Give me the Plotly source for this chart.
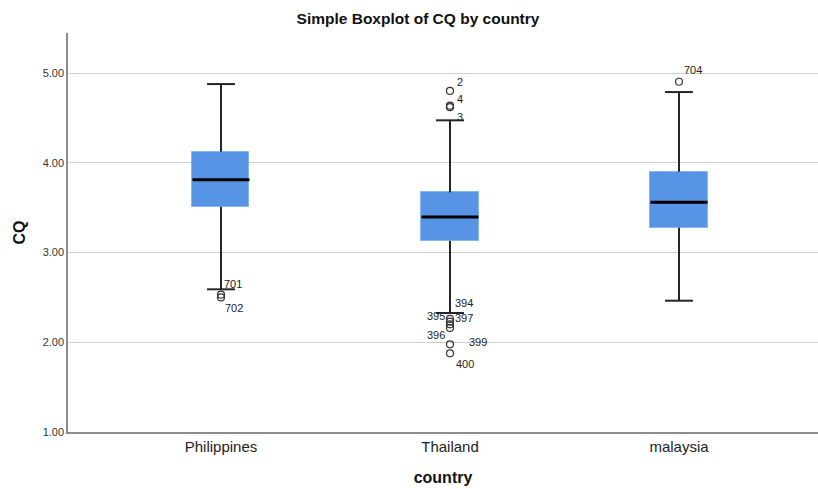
import plotly.graph_objects as go

countries = ["Philippines", "Thailand", "malaysia"]
q1 = [3.51, 3.13, 3.276]
median = [3.811, 3.395, 3.56]
q3 = [4.123, 3.67, 3.90]
lower_fence = [2.59, 2.326, 2.463]
upper_fence = [4.877, 4.473, 4.788]

# outliers: (country index, value, case label)
out_country = [0, 0, 1, 1, 1, 1, 1, 1, 1, 1, 1, 2]
out_value = [2.53, 2.50, 4.80, 4.636, 4.62, 2.26, 2.23, 2.20, 2.16, 1.977, 1.877, 4.903]
out_label = ["701", "702", "2", "4", "3", "394", "395", "397", "396", "399", "400", "704"]
# label offsets in pixels (style only)
lab_dx = [1, 2, 5, 5, 5, 3, -3, 3, -3, 17, 4, 3]
lab_dy = [11, -11, 9, 7, -10, 16, 6, 6, -7, 2, -11, 12]
lab_anchor = ["left", "left", "left", "left", "left", "left", "right", "left", "right", "left", "left", "left"]

y_ticks = [1, 2, 3, 4, 5]

BOX_HW = 0.1245
CAP_HW = 0.061
FILL = "#5894E6"
EDGE = "#86B4EE"
WCOL = "#262626"

fig = go.Figure()

xs = list(range(len(countries)))

# boxes as bars from q1 to q3
fig.add_trace(go.Bar(
    x=xs, y=[b - a for a, b in zip(q1, q3)], base=q1, width=2 * BOX_HW,
    marker=dict(color=FILL, line=dict(color=EDGE, width=1)),
    hoverinfo="skip", showlegend=False))

# whiskers and caps
wx, wy = [], []
for i in xs:
    wx += [i, i, None, i, i, None]
    wy += [q3[i], upper_fence[i], None, q1[i], lower_fence[i], None]
    wx += [i - CAP_HW, i + CAP_HW, None, i - CAP_HW, i + CAP_HW, None]
    wy += [upper_fence[i], upper_fence[i], None, lower_fence[i], lower_fence[i], None]
fig.add_trace(go.Scatter(x=wx, y=wy, mode="lines", line=dict(color=WCOL, width=2),
                         hoverinfo="skip", showlegend=False))

# medians
mx, my = [], []
for i in xs:
    mx += [i - BOX_HW, i + BOX_HW, None]
    my += [median[i], median[i], None]
fig.add_trace(go.Scatter(x=mx, y=my, mode="lines", line=dict(color="black", width=3),
                         hoverinfo="skip", showlegend=False))

# outliers
fig.add_trace(go.Scatter(
    x=out_country, y=out_value, mode="markers",
    marker=dict(symbol="circle-open", size=7, color="#333333", line=dict(width=1.2)),
    hoverinfo="skip", showlegend=False))

for c, v, t, dx, dy, an in zip(out_country, out_value, out_label, lab_dx, lab_dy, lab_anchor):
    fig.add_annotation(x=c, y=v, text=t, showarrow=False, xanchor=an, yanchor="middle",
                       xshift=dx, yshift=dy,
                       font=dict(family="Liberation Sans, Arial", size=11, color="#222222"))

fig.update_layout(
    width=818, height=489,
    margin=dict(l=68, r=0, t=33, b=57),
    paper_bgcolor="white", plot_bgcolor="white",
    title=dict(text="<b>Simple Boxplot of CQ by country</b>", x=418 / 818, xanchor="center",
               y=1 - 19 / 489, yanchor="middle",
               font=dict(family="Liberation Sans, Arial", size=15.5, color="#111111")),
    font=dict(family="Liberation Sans, Arial"),
    bargap=0,
)

fig.update_xaxes(
    range=[-0.668, 2.607], tickvals=xs, ticktext=countries,
    tickfont=dict(size=15, color="#222222"), showgrid=False, zeroline=False,
    showline=True, linecolor="#8c8c8c", linewidth=1.5, ticks="", automargin=False,
    title=dict(text="<b>country</b>", font=dict(size=16, color="#111111"), standoff=18),
)
fig.update_yaxes(
    range=[1.0, 5.446], tickvals=y_ticks, ticktext=[f"{v:.2f}" for v in y_ticks],
    tickfont=dict(size=11, color="#333333"), showgrid=True, gridcolor="#cfcfcf", gridwidth=1,
    zeroline=False, showline=True, linecolor="#8c8c8c", linewidth=1.5, ticks="", automargin=False,
    title=dict(text="<b>CQ</b>", font=dict(size=16, color="#111111"), standoff=13),
)

fig.write_html(
    "out.html",
    config={"displayModeBar": False},
    post_script="document.body.style.margin='0';document.body.style.overflow='hidden';",
)
